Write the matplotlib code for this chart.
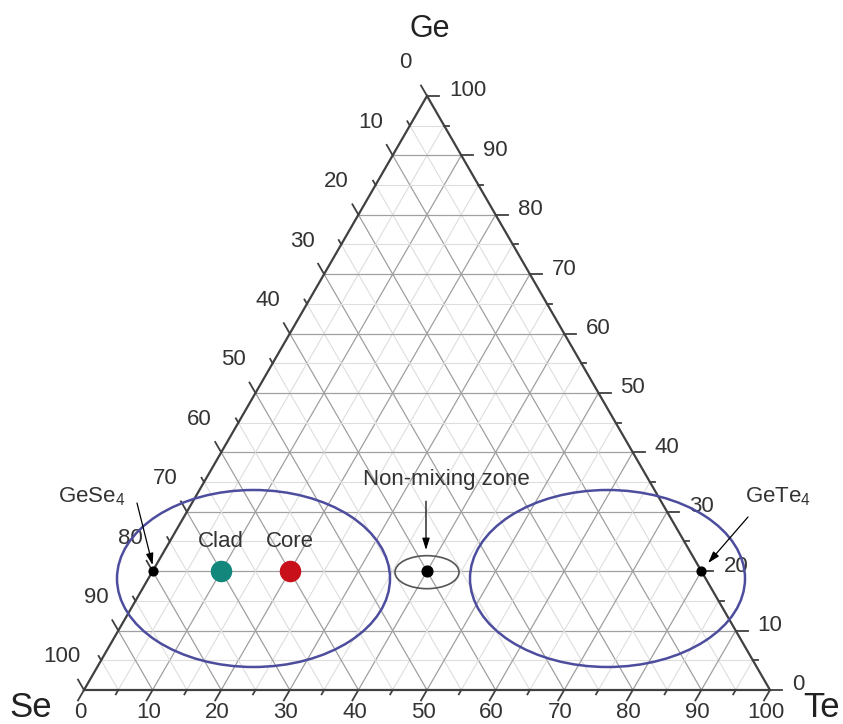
import numpy as np
import matplotlib
matplotlib.use("Agg")
import matplotlib.pyplot as plt
from matplotlib.patches import Ellipse

plt.rcParams['font.family'] = ['Liberation Sans', 'DejaVu Sans']
plt.rcParams['mathtext.fontset'] = 'custom'
plt.rcParams['mathtext.rm'] = 'Liberation Sans'

# axis ticks (at.%)
major_ticks = list(range(0, 101, 10))
minor_ticks = list(range(5, 100, 10))

# compositions (Ge, Se, Te at.%)
point_names = ["GeSe4", "Clad", "Core", "Non-mixing", "GeTe4"]
ge_pts = [20, 20, 20, 20, 20]
se_pts = [80, 70, 60, 40, 0]
te_pts = [0, 10, 20, 40, 80]

H = np.sqrt(3) / 2
PX = 1 / 686.0   # one pixel in data units


def tern(ge, te):
    ge = np.asarray(ge, dtype=float) / 100
    te = np.asarray(te, dtype=float) / 100
    return te + ge / 2, ge * H


fig = plt.figure(figsize=(8.43, 7.24), dpi=100)
ax = fig.add_axes([0, 0, 1, 1])
ax.set_xlim(-84 * PX, (843 - 84) * PX)
ax.set_ylim(-34 * PX, 690 * PX)
ax.set_aspect("equal")
ax.axis("off")

# grid lines
for v in range(5, 100, 5):
    col, lw = ("#a0a0a0", 0.9) if v % 10 == 0 else ("#dedede", 0.8)
    # constant Ge (horizontal)
    x, y = tern([v, v], [0, 100 - v])
    ax.plot(x, y, color=col, lw=lw, zorder=1)
    # constant Te
    x, y = tern([0, 100 - v], [v, v])
    ax.plot(x, y, color=col, lw=lw, zorder=1)
    # constant Se
    x, y = tern([0, 100 - v], [100 - v, 0])
    ax.plot(x, y, color=col, lw=lw, zorder=1)

# triangle frame
x, y = tern([0, 0, 100, 0], [0, 100, 0, 0])
ax.plot(x, y, color="#404040", lw=1.6, zorder=3, solid_joinstyle="miter")

tick_col = "#404040"
txt_col = "#333333"
d_left = np.array([-0.5, H])
d_bottom = np.array([-0.5, -H])
d_right = np.array([1.0, 0.0])

for v in major_ticks + minor_ticks:
    major = v % 10 == 0
    L = (12 if major else 5) * PX
    # left axis: Se content, 0 at top
    x0, y0 = tern(100 - v, 0)
    ax.plot([x0, x0 + d_left[0] * L], [y0, y0 + d_left[1] * L], color=tick_col, lw=1.3, zorder=3)
    # bottom axis: Te content
    x0, y0 = tern(0, v)
    ax.plot([x0, x0 + d_bottom[0] * L], [y0, y0 + d_bottom[1] * L], color=tick_col, lw=1.3, zorder=3)
    # right axis: Ge content
    x0, y0 = tern(v, 100 - v)
    ax.plot([x0, x0 + d_right[0] * L], [y0, y0 + d_right[1] * L], color=tick_col, lw=1.3, zorder=3)

fs = 16
for v in major_ticks:
    x0, y0 = tern(100 - v, 0)
    ax.text(x0 - 22 * PX, y0 + 33 * PX, str(v), fontsize=fs, color=txt_col,
            ha="center", va="center")
    x0, y0 = tern(0, v)
    ax.text(x0 - 4 * PX, y0 - 22 * PX, str(v), fontsize=fs, color=txt_col,
            ha="center", va="center")
    x0, y0 = tern(v, 100 - v)
    ax.text(x0 + 22 * PX, y0 + 5 * PX, str(v), fontsize=fs, color=txt_col,
            ha="left", va="center")

# corner labels
ax.text(0.5 + 3 * PX, 653 * PX, "Ge", fontsize=22, color="#222222", ha="center", va="baseline")
ax.text(-53 * PX, -27 * PX, "Se", fontsize=25, color="#222222", ha="center", va="baseline")
ax.text(738 * PX, -27 * PX, "Te", fontsize=25, color="#222222", ha="center", va="baseline")

# ellipses
blue = "#4d4d9e"
for cx, cy, w, h in [(169.5, 111.5, 273, 177), (523.5, 111.5, 275, 177)]:
    ax.add_patch(Ellipse((cx * PX, cy * PX), w * PX, h * PX, fill=False,
                         ec=blue, lw=1.8, zorder=4))
xp, yp = tern(ge_pts, te_pts)
ax.add_patch(Ellipse((xp[3], yp[3] - 1 * PX), 64 * PX, 33 * PX, fill=False,
                     ec="#555555", lw=1.2, zorder=4))

# points
ax.scatter(xp[[0, 4]], yp[[0, 4]], s=40, color="black", zorder=6)
ax.scatter(xp[3], yp[3], s=60, color="black", zorder=6)
ax.scatter(xp[1], yp[1], s=210, color="#13877c", zorder=6)
ax.scatter(xp[2], yp[2], s=210, color="#c8101a", zorder=6)

ax.text(xp[1], yp[1] + 30 * PX, "Clad", fontsize=fs, color=txt_col, ha="center", va="center")
ax.text(xp[2], yp[2] + 30 * PX, "Core", fontsize=fs, color=txt_col, ha="center", va="center")

arrow = dict(arrowstyle="-|>,head_length=0.7,head_width=0.22", color="black", lw=0.9,
             shrinkA=0, shrinkB=3)
ax.annotate("", xy=(xp[3] - 1 * PX, yp[3] + 17 * PX), xytext=(xp[3] - 1 * PX, yp[3] + 70 * PX),
            arrowprops=arrow, zorder=5)
ax.text(362 * PX, 210 * PX, "Non-mixing zone", fontsize=fs, color=txt_col,
        ha="center", va="center")

ax.annotate("", xy=(xp[0] + 1 * PX, yp[0] + 2 * PX), xytext=(53 * PX, 187 * PX),
            arrowprops=arrow, zorder=5)
ax.text(8 * PX, 193 * PX, r"$\mathregular{GeSe_4}$", fontsize=fs, color=txt_col,
        ha="center", va="center")

ax.annotate("", xy=(xp[4] + 4 * PX, yp[4] + 5 * PX), xytext=(664 * PX, 173 * PX),
            arrowprops=arrow, zorder=5)
ax.text(694 * PX, 193 * PX, r"$\mathregular{GeTe_4}$", fontsize=fs, color=txt_col,
        ha="center", va="center")

fig.savefig("out.png", dpi=100)
